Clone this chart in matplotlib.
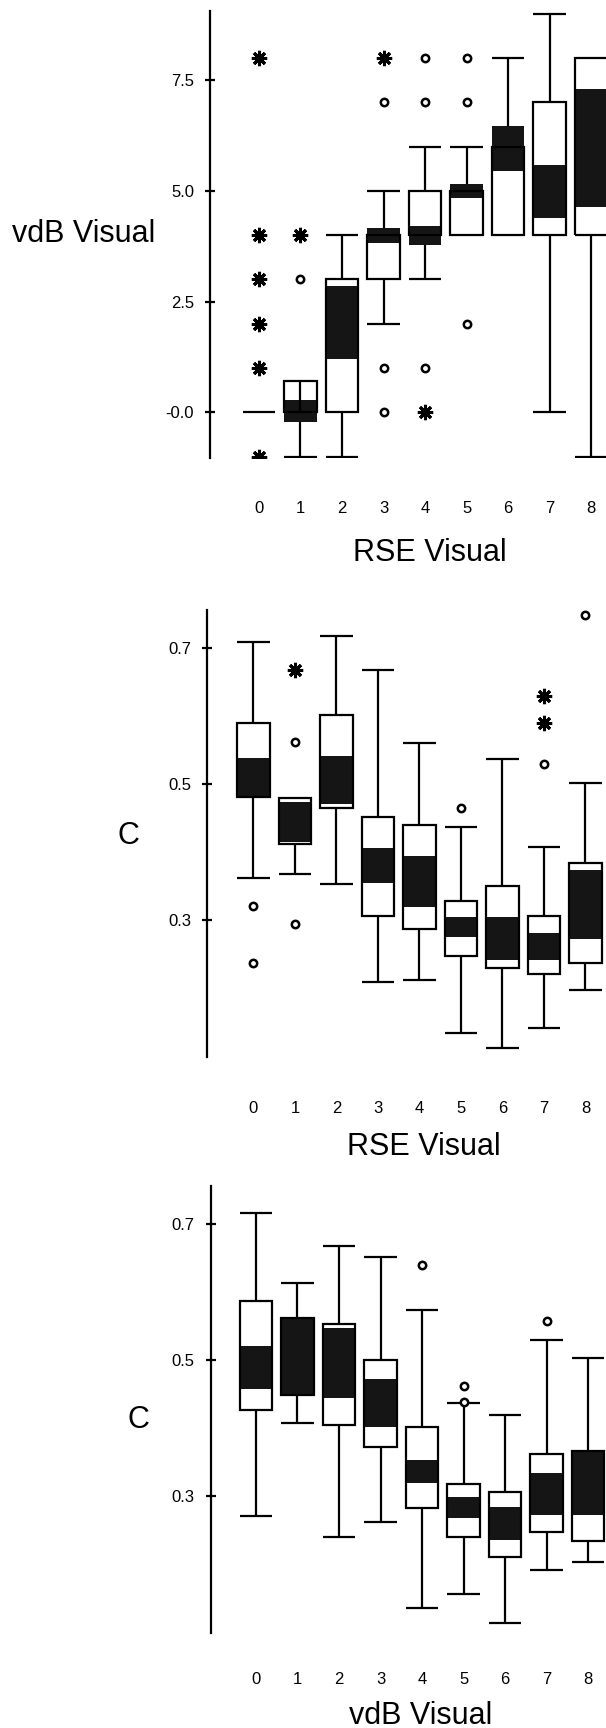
import numpy as np
import matplotlib
matplotlib.use('Agg')
import matplotlib.pyplot as plt

plt.rcParams['font.family'] = ['Liberation Sans', 'DejaVu Sans']

cats = [0, 1, 2, 3, 4, 5, 6, 7, 8]
cat_labels = ['0', '1', '2', '3', '4', '5', '6', '7', '8']

# panel 1: vdB Visual by RSE Visual
p1_wlo = [0, -1, -1, 2, 3, 4, 4, 0, -1]
p1_q1 = [0, 0, 0, 3, 4, 4, 4, 4, 4]
p1_cilo = [0, -0.23, 1.2, 3.82, 3.78, 4.83, 5.45, 4.38, 4.64]
p1_cihi = [0, 0.28, 2.85, 4.15, 4.21, 5.15, 6.47, 5.58, 7.29]
p1_q3 = [0, 0.71, 3, 4, 5, 5, 6, 7, 8]
p1_whi = [0, 0.71, 4, 5, 6, 6, 8, 9, 8]
p1_circ_x = [1, 3, 3, 3, 4, 4, 4, 5, 5, 5]
p1_circ_y = [3, 7, 1, 0, 8, 7, 1, 8, 7, 2]
p1_star_x = [0, 0, 0, 0, 0, 0, 1, 3, 4]
p1_star_y = [8, 4, 3, 2, 1, -1, 4, 8, 0]
p1_yticks = [0, 2.5, 5, 7.5]
p1_ytlabels = ['-0.0', '2.5', '5.0', '7.5']

# panel 2: C by RSE Visual
p2_wlo = [0.362, 0.368, 0.353, 0.2085, 0.2115, 0.1343, 0.1123, 0.1416, 0.1968]
p2_q1 = [0.481, 0.412, 0.464, 0.3064, 0.2868, 0.2467, 0.229, 0.2213, 0.237]
p2_cilo = [0.481, 0.415, 0.4707, 0.355, 0.319, 0.2751, 0.2418, 0.2418, 0.272]
p2_cihi = [0.538, 0.474, 0.5415, 0.406, 0.394, 0.304, 0.3045, 0.281, 0.3738]
p2_q3 = [0.59, 0.479, 0.601, 0.451, 0.4394, 0.3274, 0.3504, 0.3064, 0.3846]
p2_whi = [0.708, 0.479, 0.717, 0.667, 0.5597, 0.4365, 0.536, 0.408, 0.502]
p2_circ_x = [0, 0, 1, 1, 5, 7, 8]
p2_circ_y = [0.321, 0.237, 0.562, 0.294, 0.465, 0.529, 0.748]
p2_star_x = [1, 7, 7]
p2_star_y = [0.667, 0.629, 0.589]

# panel 3: C by vdB Visual
p3_wlo = [0.271, 0.407, 0.2397, 0.2627, 0.1362, 0.1568, 0.1132, 0.1916, 0.203]
p3_q1 = [0.427, 0.449, 0.405, 0.372, 0.2832, 0.2397, 0.2112, 0.248, 0.2343]
p3_cilo = [0.458, 0.449, 0.444, 0.4024, 0.319, 0.2676, 0.2357, 0.2725, 0.2725]
p3_cihi = [0.5215, 0.5617, 0.548, 0.4725, 0.3534, 0.2994, 0.2847, 0.3338, 0.367]
p3_q3 = [0.587, 0.5617, 0.553, 0.5004, 0.4019, 0.3176, 0.3059, 0.3618, 0.367]
p3_whi = [0.717, 0.6127, 0.668, 0.651, 0.573, 0.4368, 0.4196, 0.5299, 0.503]
p3_circ_x = [4, 5, 5, 7]
p3_circ_y = [0.640, 0.4627, 0.439, 0.5582]

c_yticks = [0.3, 0.5, 0.7]
c_ytlabels = ['0.3', '0.5', '0.7']

W, H = 606, 1728
fig = plt.figure(figsize=(W / 100, H / 100), dpi=100)


def px_axes(left, top, right, bottom):
    return fig.add_axes([left / W, 1 - bottom / H, (right - left) / W, (bottom - top) / H])


def draw_panel(ax, wlo, q1, cilo, cihi, q3, whi, bw=0.78):
    x = np.array(cats)
    wlo, q1, cilo, cihi, q3, whi = map(np.array, (wlo, q1, cilo, cihi, q3, whi))
    # whiskers and caps
    up = whi > q3
    ax.vlines(x[up], q3[up], whi[up], color='black', lw=1.6, zorder=1)
    ax.hlines(whi[up], x[up] - bw / 2, x[up] + bw / 2, color='black', lw=1.6, zorder=1)
    dn = wlo < q1
    ax.vlines(x[dn], wlo[dn], q1[dn], color='black', lw=1.6, zorder=1)
    ax.hlines(wlo[dn], x[dn] - bw / 2, x[dn] + bw / 2, color='black', lw=1.6, zorder=1)
    # box fill, shaded median interval, outline
    ax.bar(x, q3 - q1, bottom=q1, width=bw, color='white', edgecolor='none', zorder=2)
    ax.bar(x, cihi - cilo, bottom=cilo, width=bw, color='#151515', edgecolor='none', zorder=3)
    ax.bar(x, q3 - q1, bottom=q1, width=bw, fill=False, edgecolor='black', lw=1.6, zorder=4)


def style(ax, xlim, ylim, yticks, ytlabels, xpad):
    ax.set_xlim(*xlim)
    ax.set_ylim(*ylim)
    for s in ['top', 'right', 'bottom']:
        ax.spines[s].set_visible(False)
    ax.spines['left'].set_linewidth(1.6)
    ax.set_yticks(yticks)
    ax.set_yticklabels(ytlabels)
    ax.set_xticks(cats)
    ax.set_xticklabels(cat_labels)
    ax.tick_params(axis='y', direction='inout', length=7, width=1.6, pad=8, labelsize=12)
    ax.tick_params(axis='x', length=0, pad=xpad, labelsize=12)
    ax.patch.set_visible(False)


ast = (8, 2, 0)

# panel 1
ax1 = px_axes(210, 11, 606, 458)
draw_panel(ax1, p1_wlo, p1_q1, p1_cilo, p1_cihi, p1_q3, p1_whi)
ax1.vlines([1], [p1_q1[1]], [p1_q3[1]], color='black', lw=1.6, zorder=5)
ax1.plot(p1_circ_x, p1_circ_y, 'o', ms=5.3, mfc='white', mec='black', mew=1.8, zorder=6)
ax1.plot(p1_star_x, p1_star_y, ls='none', marker=ast, ms=11, mec='black', mew=2.2, zorder=6)
style(ax1, (-1.18, 8.36), (-1.032, 9.059), p1_yticks, p1_ytlabels, 31)

# panel 2
ax2 = px_axes(207.3, 610, 606, 1056.7)
draw_panel(ax2, p2_wlo, p2_q1, p2_cilo, p2_cihi, p2_q3, p2_whi)
ax2.plot(p2_circ_x, p2_circ_y, 'o', ms=5.3, mfc='white', mec='black', mew=1.8, zorder=6)
ax2.plot(p2_star_x, p2_star_y, ls='none', marker=ast, ms=11, mec='black', mew=2.2, zorder=6)
style(ax2, (-1.113, 8.494), (0.0995, 0.7553), c_yticks, c_ytlabels, 32)

# panel 3
ax3 = px_axes(210.7, 1186, 606, 1633.3)
draw_panel(ax3, p3_wlo, p3_q1, p3_cilo, p3_cihi, p3_q3, p3_whi)
ax3.plot(p3_circ_x, p3_circ_y, 'o', ms=5.3, mfc='white', mec='black', mew=1.8, zorder=6)
style(ax3, (-1.09, 8.43), (0.0985, 0.756), c_yticks, c_ytlabels, 28)

# axis titles
fs = 22
fig.text(12 / W, 1 - 234 / H, 'vdB Visual', fontsize=fs, ha='left', va='center')
fig.text(430 / W, 1 - 561 / H, 'RSE Visual', fontsize=fs, ha='center', va='baseline')
fig.text(128 / W, 1 - 836 / H, 'C', fontsize=fs, ha='center', va='center')
fig.text(424 / W, 1 - 1155 / H, 'RSE Visual', fontsize=fs, ha='center', va='baseline')
fig.text(138 / W, 1 - 1420 / H, 'C', fontsize=fs, ha='center', va='center')
fig.text(421 / W, 1 - 1724 / H, 'vdB Visual', fontsize=fs, ha='center', va='baseline')

fig.savefig('out.png', dpi=100)
